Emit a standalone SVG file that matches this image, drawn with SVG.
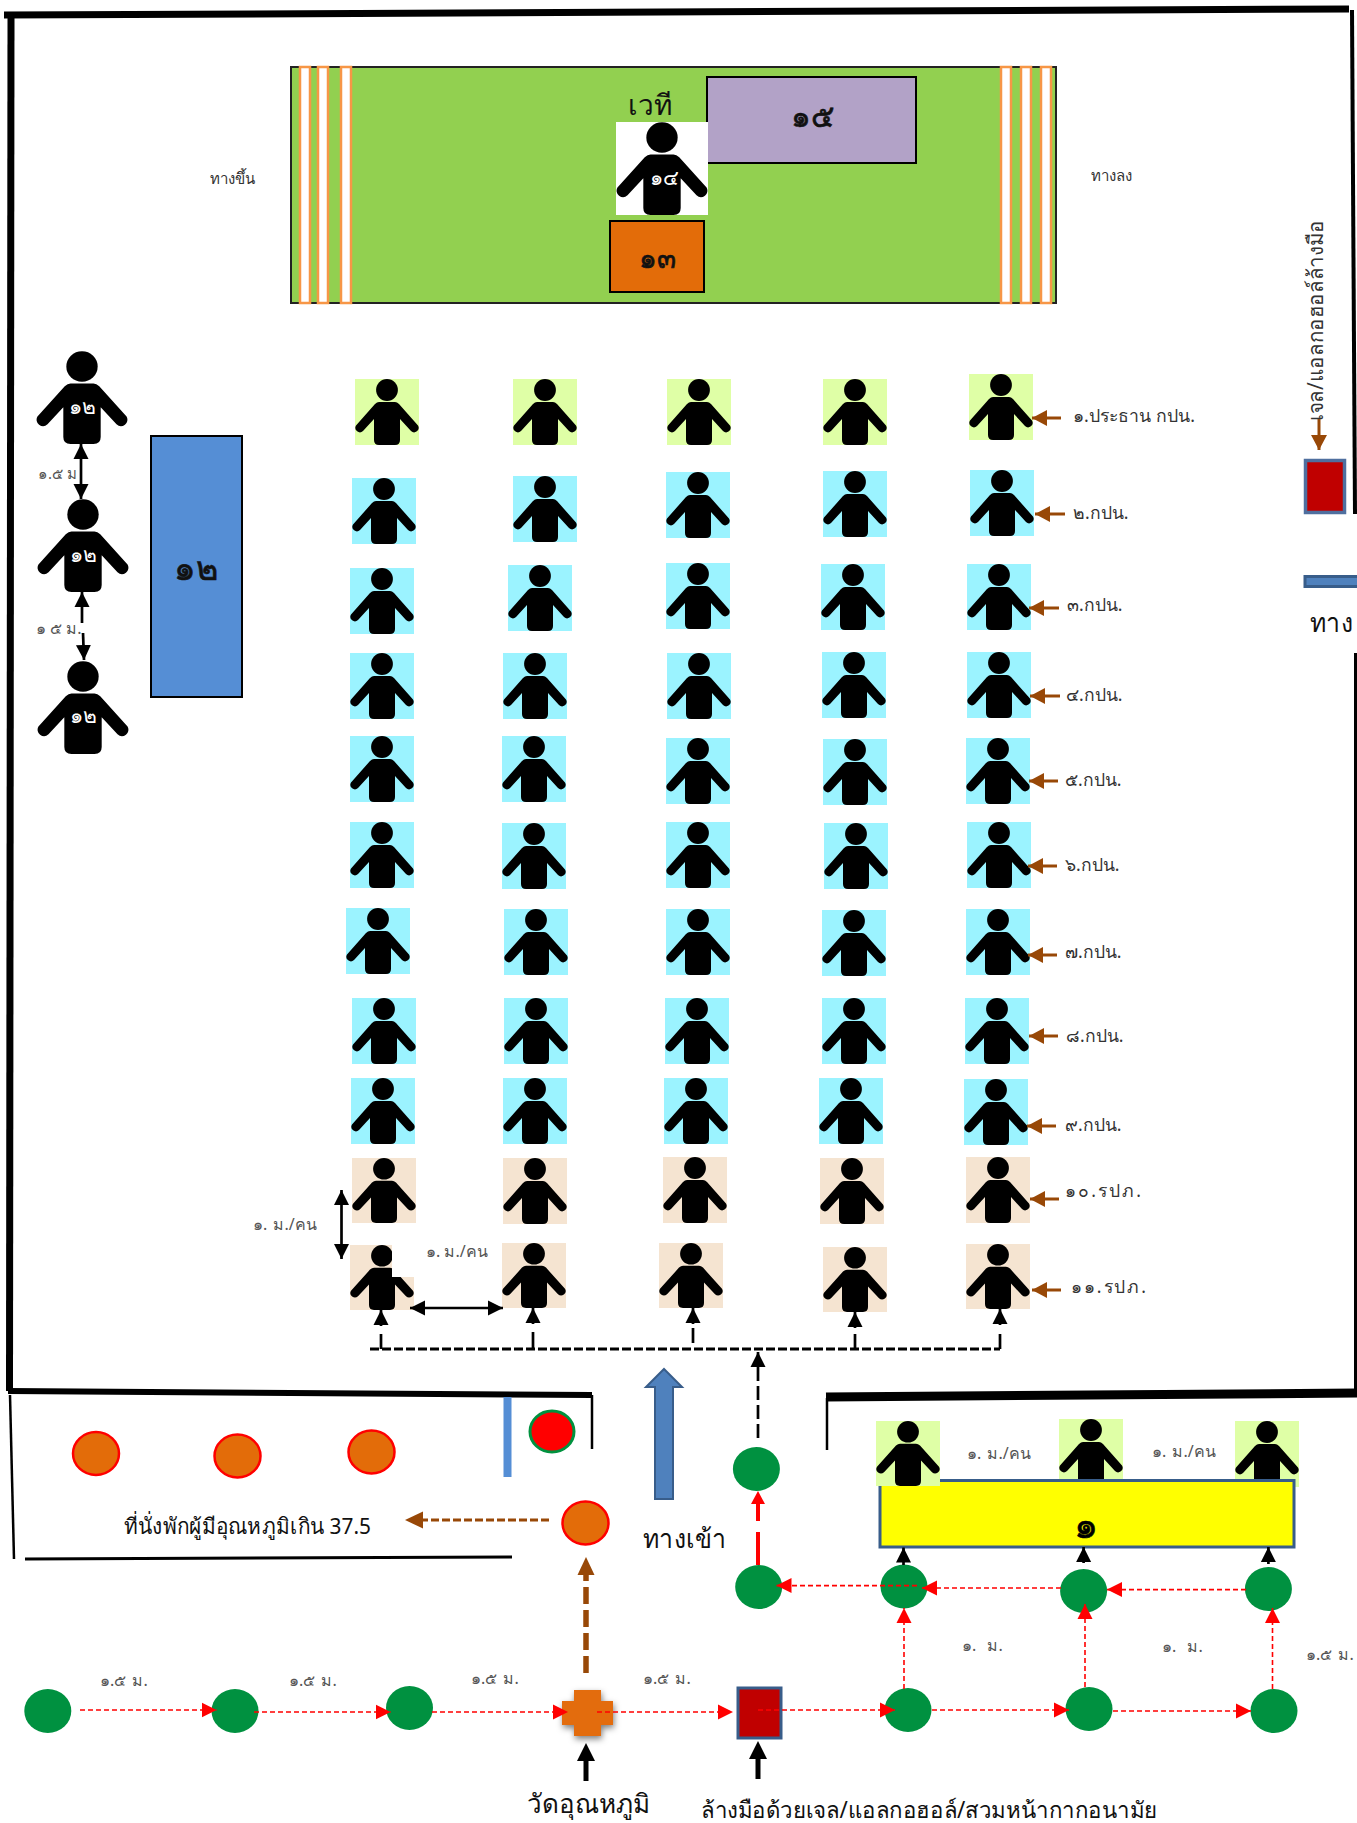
<svg xmlns="http://www.w3.org/2000/svg" width="1357" height="1823" viewBox="0 0 1357 1823">
<style>
text{font-family:"Noto Sans","Liberation Sans",sans-serif;fill:#333}
.lab{font-size:17.500px;text-anchor:start}
.sm{font-size:16px;fill:#555;word-spacing:2px}
.big{font-size:26px;fill:#111}
.w{fill:#fff;font-size:21px;text-anchor:middle}
.c{text-anchor:middle;fill:#111}
.d{text-anchor:middle;fill:#111;stroke:#111;stroke-width:.6}
.tg{fill:#dfffa6}.tb{fill:#9bf3ff}.tt{fill:#f5e4d1}
.st{fill:#fff;stroke:#f79646;stroke-width:2.5}
.g{fill:#009140}
.o{fill:#e36c09;stroke:#f00;stroke-width:2.5}
.wall{stroke:#000;fill:none}
.rd{stroke:#f00;stroke-width:1.6;stroke-dasharray:5 3;fill:none;marker-end:url(#mr)}
.bk{stroke:#000;stroke-width:2.700;fill:none}
.br{stroke:#984807;stroke-width:3;fill:none;marker-end:url(#mb)}
</style>
<defs>
<symbol id="p" viewBox="0 0 64 66" preserveAspectRatio="none">
<circle cx="32" cy="11" r="10.9"/>
<path d="M24 23H40Q42 23 44 25L63 46.500A4.500 4.500 0 0 1 56 52L45 40V61Q45 66 40 66H24Q19 66 19 61V40L8 52A4.500 4.500 0 0 1 1 46.500L20 25Q22 23 24 23Z"/>
</symbol>
<marker id="mr" markerUnits="userSpaceOnUse" markerWidth="16" markerHeight="16" refX="15" refY="8" orient="auto"><path d="M0 0.500L15 8L0 15.500Z" fill="#f00"/></marker>
<marker id="mk" markerUnits="userSpaceOnUse" markerWidth="16" markerHeight="16" refX="15" refY="8" orient="auto-start-reverse"><path d="M0 0.500L15 8L0 15.500Z" fill="#000"/></marker>
<marker id="mb" markerUnits="userSpaceOnUse" markerWidth="16" markerHeight="18" refX="15" refY="9" orient="auto"><path d="M0 1L15 9L0 17Z" fill="#984807"/></marker>
<marker id="mB" markerUnits="userSpaceOnUse" markerWidth="20" markerHeight="20" refX="1" refY="10" orient="auto"><path d="M0 1L18 10L0 19Z" fill="#000"/></marker>
<marker id="mbB" markerUnits="userSpaceOnUse" markerWidth="20" markerHeight="20" refX="1" refY="9" orient="auto"><path d="M0 0.500L18 9L0 17.500Z" fill="#984807"/></marker>
<marker id="mrB" markerUnits="userSpaceOnUse" markerWidth="16" markerHeight="16" refX="1" refY="7" orient="auto"><path d="M0 0L13 7L0 14Z" fill="#f00"/></marker>
<filter id="sh" x="-30%" y="-30%" width="170%" height="170%"><feDropShadow dx="1" dy="3" stdDeviation="3" flood-color="#000" flood-opacity="0.5"/></filter>
</defs>

<g id="walls">
<line class="wall" stroke-width="7" x1="4" y1="15" x2="1349" y2="9"/>
<line class="wall" stroke-width="7" x1="11" y1="16" x2="9.500" y2="1391"/>
<line class="wall" stroke-width="4" x1="1352" y1="10" x2="1355" y2="514"/>
<line class="wall" stroke-width="4" x1="1356" y1="653" x2="1356" y2="1390"/>
<line class="wall" stroke-width="6" x1="8" y1="1391" x2="592" y2="1395"/>
<line class="wall" stroke-width="2.500" x1="592" y1="1395" x2="592" y2="1449"/>
<line class="wall" stroke-width="2.500" x1="10" y1="1395" x2="14" y2="1559"/>
<line class="wall" stroke-width="3" x1="25" y1="1559" x2="512" y2="1557"/>
<line class="wall" stroke-width="9" x1="826" y1="1397" x2="1357" y2="1393"/>
<line class="wall" stroke-width="2.500" x1="827" y1="1398" x2="827" y2="1450"/>
</g>

<g id="stage">
<rect x="291" y="67" width="765" height="236" fill="#92d050" stroke="#222" stroke-width="2"/>
<rect class="st" x="300" y="67" width="10" height="236"/>
<rect class="st" x="318" y="67" width="10" height="236"/>
<rect class="st" x="341" y="67" width="10" height="236"/>
<rect class="st" x="1001" y="67" width="10" height="236"/>
<rect class="st" x="1021" y="67" width="10" height="236"/>
<rect class="st" x="1041" y="67" width="10" height="236"/>
<text class="c" x="650" y="115" font-size="28">เวที</text>
</g>
<g id="n15"><rect x="707" y="77" width="209" height="86" fill="#b2a2c7" stroke="#000" stroke-width="2"/><text class="d" x="812" y="127" font-size="31">๑๕</text></g>
<g id="n14"><rect x="616" y="122" width="92" height="93" fill="#fff"/><use href="#p" x="616" y="122" width="92" height="93"/><text class="w" x="664" y="185">๑๔</text></g>
<g id="n13"><rect x="610" y="221" width="94" height="71" fill="#e36c09" stroke="#000" stroke-width="2"/><text class="d" x="657" y="268" font-size="28">๑๓</text></g>
<text x="232" y="184" font-size="15" text-anchor="middle">ทางขึ้น</text>
<text x="1111" y="181" font-size="15" text-anchor="middle">ทางลง</text>

<g id="staff12">
<g id="n12a"><use href="#p" x="36" y="351" width="92" height="93"/><text class="w" x="82" y="414">๑๒</text></g>
<g id="n12b"><use href="#p" x="37" y="499" width="92" height="93"/><text class="w" x="83" y="562">๑๒</text></g>
<g id="n12c"><use href="#p" x="37" y="661" width="92" height="93"/><text class="w" x="83" y="723">๑๒</text></g>
<g id="n12t"><rect x="151" y="436" width="91" height="261" fill="#558ed5" stroke="#000" stroke-width="2"/><text class="d" x="196" y="580" font-size="34">๑๒</text></g>
</g>

<g id="seats">
<g id="s11"><rect class="tg" x="355" y="379" width="64" height="66"/><use href="#p" x="355" y="379" width="64" height="66"/></g>
<g id="s12"><rect class="tg" x="513" y="379" width="64" height="66"/><use href="#p" x="513" y="379" width="64" height="66"/></g>
<g id="s13"><rect class="tg" x="667" y="379" width="64" height="66"/><use href="#p" x="667" y="379" width="64" height="66"/></g>
<g id="s14"><rect class="tg" x="823" y="379" width="64" height="66"/><use href="#p" x="823" y="379" width="64" height="66"/></g>
<g id="s15"><rect class="tg" x="969" y="374" width="64" height="66"/><use href="#p" x="969" y="374" width="64" height="66"/></g>
<g id="s21"><rect class="tb" x="352" y="478" width="64" height="66"/><use href="#p" x="352" y="478" width="64" height="66"/></g>
<g id="s22"><rect class="tb" x="513" y="476" width="64" height="66"/><use href="#p" x="513" y="476" width="64" height="66"/></g>
<g id="s23"><rect class="tb" x="666" y="472" width="64" height="66"/><use href="#p" x="666" y="472" width="64" height="66"/></g>
<g id="s24"><rect class="tb" x="823" y="471" width="64" height="66"/><use href="#p" x="823" y="471" width="64" height="66"/></g>
<g id="s25"><rect class="tb" x="970" y="470" width="64" height="66"/><use href="#p" x="970" y="470" width="64" height="66"/></g>
<g id="s31"><rect class="tb" x="350" y="568" width="64" height="66"/><use href="#p" x="350" y="568" width="64" height="66"/></g>
<g id="s32"><rect class="tb" x="508" y="565" width="64" height="66"/><use href="#p" x="508" y="565" width="64" height="66"/></g>
<g id="s33"><rect class="tb" x="666" y="563" width="64" height="66"/><use href="#p" x="666" y="563" width="64" height="66"/></g>
<g id="s34"><rect class="tb" x="821" y="564" width="64" height="66"/><use href="#p" x="821" y="564" width="64" height="66"/></g>
<g id="s35"><rect class="tb" x="967" y="564" width="64" height="66"/><use href="#p" x="967" y="564" width="64" height="66"/></g>
<g id="s41"><rect class="tb" x="350" y="653" width="64" height="66"/><use href="#p" x="350" y="653" width="64" height="66"/></g>
<g id="s42"><rect class="tb" x="503" y="653" width="64" height="66"/><use href="#p" x="503" y="653" width="64" height="66"/></g>
<g id="s43"><rect class="tb" x="667" y="653" width="64" height="66"/><use href="#p" x="667" y="653" width="64" height="66"/></g>
<g id="s44"><rect class="tb" x="822" y="652" width="64" height="66"/><use href="#p" x="822" y="652" width="64" height="66"/></g>
<g id="s45"><rect class="tb" x="967" y="652" width="64" height="66"/><use href="#p" x="967" y="652" width="64" height="66"/></g>
<g id="s51"><rect class="tb" x="350" y="736" width="64" height="66"/><use href="#p" x="350" y="736" width="64" height="66"/></g>
<g id="s52"><rect class="tb" x="502" y="736" width="64" height="66"/><use href="#p" x="502" y="736" width="64" height="66"/></g>
<g id="s53"><rect class="tb" x="666" y="738" width="64" height="66"/><use href="#p" x="666" y="738" width="64" height="66"/></g>
<g id="s54"><rect class="tb" x="823" y="739" width="64" height="66"/><use href="#p" x="823" y="739" width="64" height="66"/></g>
<g id="s55"><rect class="tb" x="966" y="738" width="64" height="66"/><use href="#p" x="966" y="738" width="64" height="66"/></g>
<g id="s61"><rect class="tb" x="350" y="822" width="64" height="66"/><use href="#p" x="350" y="822" width="64" height="66"/></g>
<g id="s62"><rect class="tb" x="502" y="823" width="64" height="66"/><use href="#p" x="502" y="823" width="64" height="66"/></g>
<g id="s63"><rect class="tb" x="666" y="822" width="64" height="66"/><use href="#p" x="666" y="822" width="64" height="66"/></g>
<g id="s64"><rect class="tb" x="824" y="823" width="64" height="66"/><use href="#p" x="824" y="823" width="64" height="66"/></g>
<g id="s65"><rect class="tb" x="967" y="822" width="64" height="66"/><use href="#p" x="967" y="822" width="64" height="66"/></g>
<g id="s71"><rect class="tb" x="346" y="908" width="64" height="66"/><use href="#p" x="346" y="908" width="64" height="66"/></g>
<g id="s72"><rect class="tb" x="504" y="909" width="64" height="66"/><use href="#p" x="504" y="909" width="64" height="66"/></g>
<g id="s73"><rect class="tb" x="666" y="909" width="64" height="66"/><use href="#p" x="666" y="909" width="64" height="66"/></g>
<g id="s74"><rect class="tb" x="822" y="910" width="64" height="66"/><use href="#p" x="822" y="910" width="64" height="66"/></g>
<g id="s75"><rect class="tb" x="966" y="909" width="64" height="66"/><use href="#p" x="966" y="909" width="64" height="66"/></g>
<g id="s81"><rect class="tb" x="352" y="998" width="64" height="66"/><use href="#p" x="352" y="998" width="64" height="66"/></g>
<g id="s82"><rect class="tb" x="504" y="998" width="64" height="66"/><use href="#p" x="504" y="998" width="64" height="66"/></g>
<g id="s83"><rect class="tb" x="665" y="998" width="64" height="66"/><use href="#p" x="665" y="998" width="64" height="66"/></g>
<g id="s84"><rect class="tb" x="822" y="998" width="64" height="66"/><use href="#p" x="822" y="998" width="64" height="66"/></g>
<g id="s85"><rect class="tb" x="965" y="998" width="64" height="66"/><use href="#p" x="965" y="998" width="64" height="66"/></g>
<g id="s91"><rect class="tb" x="351" y="1078" width="64" height="66"/><use href="#p" x="351" y="1078" width="64" height="66"/></g>
<g id="s92"><rect class="tb" x="503" y="1078" width="64" height="66"/><use href="#p" x="503" y="1078" width="64" height="66"/></g>
<g id="s93"><rect class="tb" x="664" y="1078" width="64" height="66"/><use href="#p" x="664" y="1078" width="64" height="66"/></g>
<g id="s94"><rect class="tb" x="819" y="1078" width="64" height="66"/><use href="#p" x="819" y="1078" width="64" height="66"/></g>
<g id="s95"><rect class="tb" x="964" y="1079" width="64" height="66"/><use href="#p" x="964" y="1079" width="64" height="66"/></g>
<g id="s101"><rect class="tt" x="352" y="1158" width="64" height="65"/><use href="#p" x="352" y="1158" width="64" height="65"/></g>
<g id="s102"><rect class="tt" x="503" y="1158" width="64" height="66"/><use href="#p" x="503" y="1158" width="64" height="66"/></g>
<g id="s103"><rect class="tt" x="663" y="1157" width="64" height="66"/><use href="#p" x="663" y="1157" width="64" height="66"/></g>
<g id="s104"><rect class="tt" x="820" y="1158" width="64" height="66"/><use href="#p" x="820" y="1158" width="64" height="66"/></g>
<g id="s105"><rect class="tt" x="966" y="1157" width="64" height="66"/><use href="#p" x="966" y="1157" width="64" height="66"/></g>
<g id="s111"><rect class="tt" x="350" y="1245" width="64" height="65"/><use href="#p" x="350" y="1245" width="64" height="65"/><rect x="392" y="1245" width="23" height="32" fill="#fff"/></g>
<g id="s112"><rect class="tt" x="502" y="1243" width="64" height="65"/><use href="#p" x="502" y="1243" width="64" height="65"/></g>
<g id="s113"><rect class="tt" x="659" y="1243" width="64" height="65"/><use href="#p" x="659" y="1243" width="64" height="65"/></g>
<g id="s114"><rect class="tt" x="823" y="1247" width="64" height="65"/><use href="#p" x="823" y="1247" width="64" height="65"/></g>
<g id="s115"><rect class="tt" x="966" y="1244" width="64" height="65"/><use href="#p" x="966" y="1244" width="64" height="65"/></g>
</g>

<g id="seat-labels">
<text class="lab" x="1073" y="422" textLength="122" lengthAdjust="spacingAndGlyphs">๑.ประธาน กปน.</text>
<text class="lab" x="1073" y="519">๒.กปน.</text>
<text class="lab" x="1067" y="611">๓.กปน.</text>
<text class="lab" x="1066" y="701">๔.กปน.</text>
<text class="lab" x="1065" y="786">๕.กปน.</text>
<text class="lab" x="1065" y="871">๖.กปน.</text>
<text class="lab" x="1065" y="958">๗.กปน.</text>
<text class="lab" x="1066" y="1042">๘.กปน.</text>
<text class="lab" x="1065" y="1131">๙.กปน.</text>
<text class="lab" x="1065" y="1197" textLength="76">๑๐.รปภ.</text>
<text class="lab" x="1071" y="1293" textLength="75">๑๑.รปภ.</text>
</g>

<g id="dist-labels">
<text class="sm" x="38" y="479" style="font-size:15px;word-spacing:0">๑.๕ ม</text>
<text class="sm" x="36" y="634" style="word-spacing:0">๑ ๕ ม.</text>
<text class="sm" x="253" y="1230">๑. ม./คน</text>
<text class="sm" x="426" y="1257" style="word-spacing:0">๑. ม./คน</text>
<text class="sm" x="967" y="1459">๑. ม./คน</text>
<text class="sm" x="1152" y="1457">๑. ม./คน</text>
<text class="sm" x="962" y="1651" style="word-spacing:7px">๑. ม.</text>
<text class="sm" x="1162" y="1652" style="word-spacing:7px">๑. ม.</text>
<text class="sm" x="1306" y="1660">๑.๕ ม.</text>
<text class="sm" x="100" y="1686">๑.๕ ม.</text>
<text class="sm" x="289" y="1686">๑.๕ ม.</text>
<text class="sm" x="471" y="1684">๑.๕ ม.</text>
<text class="sm" x="643" y="1684">๑.๕ ม.</text>
</g>

<g id="waiting">
<ellipse class="o" cx="96" cy="1453.500" rx="23" ry="21.500"/>
<ellipse class="o" cx="237.500" cy="1456" rx="23" ry="21.500"/>
<ellipse class="o" cx="371.500" cy="1452" rx="23" ry="21.500"/>
<rect x="503.500" y="1397" width="8" height="80" fill="#558ed5"/>
<ellipse cx="552" cy="1431.500" rx="22" ry="20.500" fill="#f00" stroke="#00923f" stroke-width="3"/>
<ellipse id="temp-out" class="o" cx="585.500" cy="1523" rx="23" ry="21.500"/>
<text x="124" y="1534" font-size="22" textLength="247" lengthAdjust="spacingAndGlyphs" style="fill:#111">ที่นั่งพักผู้มีอุณหภูมิเกิน 37.5</text>
</g>

<g id="entry">
<path d="M664 1369L682 1387H673V1499H655V1387H646Z" fill="#4f81bd" stroke="#385d8a" stroke-width="2"/>
<text class="big" x="643" y="1548" textLength="83" lengthAdjust="spacingAndGlyphs">ทางเข้า</text>
</g>

<g id="sanitizer">
<rect x="1305.500" y="460.500" width="39" height="52" fill="#c00000" stroke="#4f6f9f" stroke-width="3.500"/>
<rect x="1305" y="576.500" width="54" height="10" fill="#4f81bd" stroke="#385d8a" stroke-width="3"/>
<text class="big" x="1310" y="632" textLength="43" lengthAdjust="spacingAndGlyphs">ทาง</text>
<text x="0" y="0" font-size="21" textLength="201" lengthAdjust="spacingAndGlyphs" transform="translate(1323 421) rotate(-90)">เจล/แอลกอฮอล์ล้างมือ</text>
</g>

<g id="front-desk">
<g id="f2"><rect class="tg" x="1059" y="1419" width="64" height="66"/><use href="#p" x="1059" y="1419" width="64" height="66"/></g>
<g id="f3"><rect class="tg" x="1235" y="1421" width="64" height="66"/><use href="#p" x="1235" y="1421" width="64" height="66"/></g>
<g id="desk"><rect x="880" y="1480.500" width="414" height="66.500" fill="#ff0" stroke="#385d8a" stroke-width="3"/><text class="d" x="1086" y="1538" font-size="38" style="fill:#000;stroke:#000">๑</text></g>
<g id="f1"><rect class="tg" x="876" y="1421" width="64" height="65"/><use href="#p" x="876" y="1421" width="64" height="65"/></g>
</g>

<g id="queue">
<ellipse class="g" cx="47.800" cy="1711" rx="23.500" ry="22"/>
<ellipse class="g" cx="235" cy="1711" rx="23.500" ry="22"/>
<ellipse class="g" cx="409.500" cy="1708" rx="23.500" ry="22"/>
<ellipse class="g" cx="908" cy="1710" rx="23.500" ry="22"/>
<ellipse class="g" cx="1089" cy="1709" rx="23.500" ry="22"/>
<ellipse class="g" cx="1274" cy="1711" rx="23.500" ry="22"/>
<ellipse class="g" cx="758.700" cy="1587" rx="23.500" ry="22"/>
<ellipse class="g" cx="904" cy="1586.500" rx="23.500" ry="22"/>
<ellipse class="g" cx="1083.600" cy="1591" rx="23.500" ry="22"/>
<ellipse class="g" cx="1268.400" cy="1589" rx="23.500" ry="22"/>
<ellipse class="g" cx="756.400" cy="1469" rx="23.500" ry="22"/>
</g>
<g id="temp"><path d="M574 1690H601V1701H613V1725H601V1736H574V1725H562V1701H574Z" fill="#e36c09" filter="url(#sh)"/></g>
<g id="wash"><rect x="738" y="1688" width="43" height="50" fill="#c00000" stroke="#385d8a" stroke-width="3"/></g>

<g id="connectors">
<line class="rd" x1="80" y1="1710" x2="216.500" y2="1710"/>
<line class="rd" x1="254" y1="1712" x2="390.600" y2="1712"/>
<line class="rd" x1="432" y1="1712" x2="568" y2="1712"/>
<line class="rd" x1="597" y1="1712" x2="733" y2="1712"/>
<line class="rd" x1="758" y1="1710" x2="895" y2="1710"/>
<line class="rd" x1="932" y1="1710" x2="1069" y2="1710"/>
<line class="rd" x1="1113" y1="1711" x2="1251" y2="1711"/>
<line class="rd" x1="904" y1="1689" x2="904" y2="1608"/>
<line class="rd" x1="1085" y1="1687" x2="1085" y2="1604"/>
<line class="rd" x1="1272.500" y1="1689" x2="1272.500" y2="1608"/>
<line class="rd" x1="1246" y1="1589.600" x2="1107" y2="1589.600"/>
<line class="rd" x1="1061" y1="1588" x2="922" y2="1588"/>
<line class="rd" x1="917" y1="1585.600" x2="776.500" y2="1585.600"/>
<line x1="758" y1="1565" x2="758" y2="1503" stroke="#f00" stroke-width="4" stroke-dasharray="33 11 40" marker-end="url(#mrB)"/>

<line class="bk" stroke-dasharray="9 3" style="stroke-width:3" x1="370" y1="1349" x2="1000" y2="1349"/>
<path class="bk" d="M381 1349V1334"/><line class="bk" x1="381" y1="1326" x2="381" y2="1310" marker-end="url(#mk)"/>
<path class="bk" d="M533 1349V1332"/><line class="bk" x1="533" y1="1324" x2="533" y2="1308" marker-end="url(#mk)"/>
<path class="bk" d="M693 1343V1328"/><line class="bk" x1="693" y1="1324" x2="693" y2="1308" marker-end="url(#mk)"/>
<path class="bk" d="M855 1349V1334"/><line class="bk" x1="855" y1="1328" x2="855" y2="1312" marker-end="url(#mk)"/>
<path class="bk" d="M1000 1349V1334"/><line class="bk" x1="1000" y1="1325" x2="1000" y2="1309" marker-end="url(#mk)"/>
<line class="bk" stroke-dasharray="14 5" x1="758" y1="1438" x2="758" y2="1352" marker-end="url(#mk)"/>
<line class="bk" x1="410" y1="1308" x2="503" y2="1308" marker-start="url(#mk)" marker-end="url(#mk)"/>
<line class="bk" x1="341.500" y1="1190" x2="341.500" y2="1259" marker-start="url(#mk)" marker-end="url(#mk)"/>
<line class="bk" x1="81" y1="444" x2="81" y2="499" marker-start="url(#mk)" marker-end="url(#mk)"/>
<line class="bk" x1="82" y1="623" x2="82" y2="592" marker-end="url(#mk)"/>
<line class="bk" x1="83" y1="633" x2="84" y2="660" marker-end="url(#mk)"/>
<line class="bk" x1="903.500" y1="1565" x2="903.500" y2="1547.600" marker-end="url(#mk)"/>
<line class="bk" x1="1083.600" y1="1563" x2="1083.600" y2="1547" marker-end="url(#mk)"/>
<line class="bk" x1="1268.400" y1="1564" x2="1268.400" y2="1547" marker-end="url(#mk)"/>
<line stroke="#000" stroke-width="5" x1="586" y1="1781" x2="586" y2="1760" marker-end="url(#mB)"/>
<line stroke="#000" stroke-width="5" x1="758" y1="1779" x2="758" y2="1758" marker-end="url(#mB)"/>

<line class="br" x1="1319" y1="419" x2="1319" y2="450"/>
<line class="br" x1="1061" y1="418" x2="1032" y2="418"/>
<line class="br" x1="1065" y1="514" x2="1035" y2="514"/>
<line class="br" x1="1059" y1="608" x2="1029" y2="608"/>
<line class="br" x1="1060" y1="696" x2="1030" y2="696"/>
<line class="br" x1="1058" y1="781" x2="1029" y2="781"/>
<line class="br" x1="1057" y1="866" x2="1028" y2="866"/>
<line class="br" x1="1057" y1="955" x2="1028" y2="955"/>
<line class="br" x1="1058" y1="1036" x2="1029" y2="1036"/>
<line class="br" x1="1056" y1="1126" x2="1027" y2="1126"/>
<line class="br" x1="1059" y1="1199" x2="1030" y2="1199"/>
<line class="br" x1="1061" y1="1290" x2="1032" y2="1290"/>
<line stroke="#984807" stroke-width="3" stroke-dasharray="8 3" x1="549" y1="1520" x2="422" y2="1520" marker-end="url(#mbB)"/>
<line stroke="#984807" stroke-width="5.500" stroke-dasharray="17 6" x1="586" y1="1673" x2="586" y2="1574" marker-end="url(#mbB)"/>
</g>

<g id="captions">
<text class="c" x="588" y="1813" font-size="26">วัดอุณหภูมิ</text>
<text class="c" x="929" y="1818" font-size="23" textLength="456" lengthAdjust="spacingAndGlyphs">ล้างมือด้วยเจล/แอลกอฮอล์/สวมหน้ากากอนามัย</text>
</g>
</svg>
